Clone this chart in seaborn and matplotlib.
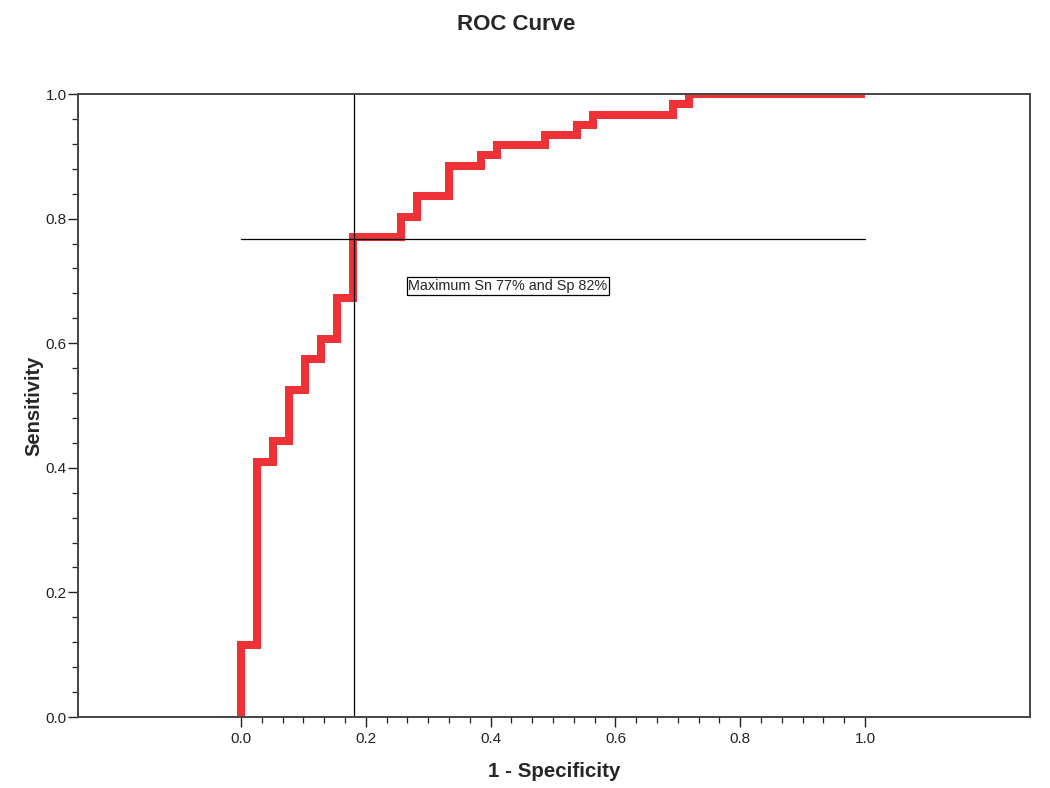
import numpy as np
import pandas as pd
import seaborn as sns
import matplotlib.pyplot as plt
from matplotlib.ticker import MultipleLocator

# ROC points (1 - specificity, sensitivity)
fpr = [0.000, 0.000, 0.026, 0.051, 0.077, 0.103, 0.128, 0.154, 0.179, 0.256,
       0.282, 0.333, 0.385, 0.410, 0.487, 0.538, 0.564, 0.692, 0.718, 1.000]
tpr = [0.000, 0.115, 0.410, 0.443, 0.525, 0.574, 0.607, 0.672, 0.770, 0.803,
       0.836, 0.885, 0.902, 0.918, 0.934, 0.951, 0.967, 0.984, 1.000, 1.000]

# cut-off point
cut_fpr = 0.181
cut_tpr = 0.767
nota = "Maximum Sn 77% and Sp 82%"

df = pd.DataFrame({"fpr": fpr, "tpr": tpr})

sns.set_style("white")
plt.rcParams["font.family"] = ["Liberation Sans", "DejaVu Sans"]

fig = plt.figure(figsize=(10.5, 7.88), dpi=100)
ax = fig.add_axes([0.0743, 0.0901, 0.9067, 0.7906])

sns.lineplot(data=df, x="fpr", y="tpr", sort=False, estimator=None,
             drawstyle="steps-post", color="#ee3238", linewidth=5.8, ax=ax,
             solid_capstyle="butt", solid_joinstyle="miter")

# linhas de referencia
ax.plot([cut_fpr, cut_fpr], [0, 1], color="black", lw=0.9)
ax.plot([0, 1], [cut_tpr, cut_tpr], color="black", lw=0.9)

ax.text(0.268, 0.692, nota, fontsize=10.4, va="center", ha="left",
        bbox=dict(boxstyle="square,pad=0.12", fc="white", ec="black", lw=0.9))

ax.set_xlim(-0.2612, 1.2644)
ax.set_ylim(0, 1)

ax.set_xticks([0.0, 0.2, 0.4, 0.6, 0.8, 1.0])
ax.set_xticks(np.arange(0, 1.0001, 1 / 30), minor=True)
ax.set_yticks([0.0, 0.2, 0.4, 0.6, 0.8, 1.0])
ax.yaxis.set_minor_locator(MultipleLocator(0.04))
ax.set_xticklabels(["0.0", "0.2", "0.4", "0.6", "0.8", "1.0"])
ax.set_yticklabels(["0.0", "0.2", "0.4", "0.6", "0.8", "1.0"])

ax.tick_params(which="major", direction="out", length=7, width=1.0,
               color="#222222", labelsize=11, labelcolor="#222222",
               bottom=True, left=True)
ax.tick_params(axis="y", which="major", pad=1)
ax.tick_params(which="minor", direction="out", length=4, width=0.9,
               color="#222222", bottom=True, left=True)

for s in ax.spines.values():
    s.set_color("#444444")
    s.set_linewidth(1.4)
    s.set_visible(True)

ax.set_xlabel("1 - Specificity", fontsize=14.8, fontweight="bold", labelpad=12)
ax.set_ylabel("Sensitivity", fontsize=14.5, fontweight="bold", labelpad=1.5)
fig.suptitle("ROC Curve", x=0.492, y=0.982, fontsize=16, fontweight="bold")

plt.savefig("out.png", dpi=100)
